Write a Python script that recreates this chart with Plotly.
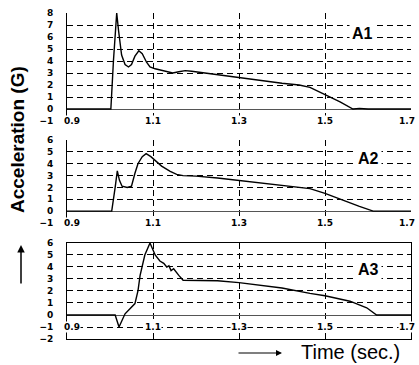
import plotly.graph_objects as go

# ---------------- data ----------------
T1 = [0.9, 1.0, 1.002, 1.008, 1.0156, 1.02, 1.027, 1.035, 1.043, 1.05, 1.058, 1.067,
      1.075, 1.085, 1.093, 1.105, 1.116, 1.13, 1.146, 1.16, 1.175, 1.19, 1.21, 1.25,
      1.3, 1.35, 1.40, 1.44, 1.465, 1.5, 1.535, 1.565, 1.58, 1.6, 1.7]
A1 = [0, 0, 0, 4.0, 8.0, 6.5, 4.5, 3.7, 3.5, 3.7, 4.4, 4.85,
      4.6, 3.9, 3.5, 3.35, 3.25, 3.15, 3.0, 3.1, 3.2, 3.15, 3.05, 2.85,
      2.6, 2.35, 2.15, 2.0, 1.8, 1.2, 0.6, 0.0, 0.05, 0.0, 0.0]

T2 = [0.9, 1.004, 1.012, 1.017, 1.022, 1.028, 1.04, 1.05, 1.058, 1.065, 1.075, 1.084,
      1.095, 1.105, 1.12, 1.14, 1.155, 1.17, 1.2, 1.25, 1.3, 1.35, 1.4, 1.44,
      1.465, 1.5, 1.542, 1.58, 1.612, 1.7]
A2 = [0, 0, 2.0, 3.4, 2.6, 2.1, 2.0, 2.1, 3.2, 4.0, 4.6, 4.85,
      4.6, 4.3, 3.8, 3.35, 3.1, 3.0, 2.95, 2.8, 2.6, 2.35, 2.15, 2.0,
      1.9, 1.5, 0.9, 0.4, 0.0, 0.0]

T3 = [0.9, 1.012, 1.021, 1.028, 1.035, 1.047, 1.058, 1.065, 1.07, 1.081, 1.093, 1.105,
      1.116, 1.125, 1.132, 1.137, 1.142, 1.148, 1.155, 1.16, 1.17, 1.19, 1.21, 1.25,
      1.3, 1.35, 1.4, 1.465, 1.5, 1.558, 1.597, 1.62, 1.7]
A3 = [0, 0, -1.0, -0.4, 0.1, 0.55, 0.95, 2.0, 3.3, 5.0, 6.0, 5.0,
      4.5, 4.3, 4.0, 4.1, 3.7, 3.85, 3.5, 3.3, 2.9, 2.9, 2.9, 2.85,
      2.7, 2.5, 2.25, 1.8, 1.6, 1.15, 0.6, 0.0, 0.0]

X_TICKS = [0.9, 1.1, 1.3, 1.5, 1.7]
X_LABELS = ["0.9", "1.1", "1.3", "1.5", "1.7"]
Y_TICKS = [list(range(-1, 9)), list(range(-1, 7)), list(range(-2, 7))]
PANEL_NAMES = ["A1", "A2", "A3"]
PANEL_LABEL_POS = [(1.588, 6.3), (1.6, 4.45), (1.6, 3.75)]
Y_TITLE = "Acceleration (G)"
X_TITLE = "Time (sec.)"

# ---------------- figure ----------------
SERIES = [(T1, A1), (T2, A2), (T3, A3)]
DOMAINS = [[0.6687, 1.0], [0.3558, 0.6104], [0.0, 0.2945]]
RANGES = [[-1, 8], [-1, 6], [-2, 6]]

W, H = 419, 365
ML, MR, MT, MB = 67, 8, 13, 26
PW, PH = W - ML - MR, H - MT - MB

TICKFONT = dict(family="DejaVu Sans", size=9, color="black", weight=700)
DASH = "6px,4px"

fig = go.Figure()
layout = dict(
    template="none",
    width=W, height=H,
    margin=dict(l=ML, r=MR, t=MT, b=MB, pad=0, autoexpand=False),
    paper_bgcolor="white", plot_bgcolor="white",
    showlegend=False,
)

annotations = []
for i, ((t, a), dom, rng, yt) in enumerate(zip(SERIES, DOMAINS, RANGES, Y_TICKS)):
    n = "" if i == 0 else str(i + 1)
    xa, ya = "x" + n, "y" + n
    fig.add_trace(go.Scatter(x=t, y=a, mode="lines", xaxis=xa, yaxis=ya,
                             line=dict(color="black", width=1.4)))
    last = (i == 2)
    layout["xaxis" + n] = dict(
        domain=[0, 1], anchor=ya, range=[0.9, 1.7], tickvals=X_TICKS,
        showticklabels=False, ticks="", showgrid=True, gridcolor="black",
        gridwidth=1, griddash=DASH, zeroline=False, automargin=False,
        showline=last, mirror=last, linecolor="black", linewidth=1,
    )
    layout["yaxis" + n] = dict(
        domain=dom, anchor=xa, range=rng, tickvals=yt,
        ticktext=[("\u2212" + str(-v)) if v < 0 else str(v) for v in yt],
        ticks="", ticklabelstandoff=11, tickfont=TICKFONT, automargin=False,
        showgrid=True, gridcolor="black", gridwidth=1, griddash=DASH,
        zeroline=True, zerolinecolor="#555", zerolinewidth=1,
        showline=True, mirror=last, linecolor="black", linewidth=1,
    )
    for xv, lab in zip(X_TICKS, X_LABELS):
        shift = 5 if xv == X_TICKS[0] else (-4 if xv == X_TICKS[-1] else 0)
        annotations.append(dict(
            x=xv, y=-1, xref=xa, yref=ya, text=lab, showarrow=False,
            font=TICKFONT, bgcolor="white", borderpad=0,
            xanchor="center", yanchor="middle", xshift=shift,
        ))
    px_, py_ = PANEL_LABEL_POS[i]
    annotations.append(dict(
        x=px_, y=py_, xref=xa, yref=ya, text=PANEL_NAMES[i], showarrow=False,
        font=dict(family="Liberation Sans", size=16, color="black", weight=700),
        bgcolor="white", borderpad=2, xanchor="center", yanchor="middle",
    ))


def px2paper(x, y):
    return (x - ML) / PW, (H - MB - y) / PH


# axis titles and arrows (positions given in figure pixels)
tx, ty = px2paper(17, 140)
annotations.append(dict(
    x=tx, y=ty, xref="paper", yref="paper", text=Y_TITLE, textangle=-90,
    showarrow=False, font=dict(family="Liberation Sans", size=19, color="black", weight=700),
    xanchor="center", yanchor="middle",
))
tx, ty = px2paper(350, 352)
annotations.append(dict(
    x=tx, y=ty, xref="paper", yref="paper", text=X_TITLE, showarrow=False,
    font=dict(family="Liberation Sans", size=20, color="black"),
    xanchor="center", yanchor="middle",
))
tx, ty = px2paper(21, 245)
annotations.append(dict(  # vertical arrow
    x=tx, y=ty, xref="paper", yref="paper",
    ax=0, ay=40, text="", showarrow=True,
    arrowhead=2, arrowsize=1, arrowwidth=1.5, arrowcolor="black",
))
tx, ty = px2paper(282, 353)
annotations.append(dict(  # horizontal arrow
    x=tx, y=ty, xref="paper", yref="paper",
    ax=-45, ay=0, text="", showarrow=True,
    arrowhead=2, arrowsize=1, arrowwidth=1.2, arrowcolor="black",
))

layout["annotations"] = annotations
fig.update_layout(**layout)
fig.write_html("out.html", config={"displayModeBar": False},
               post_script="document.body.style.margin='0px';")
